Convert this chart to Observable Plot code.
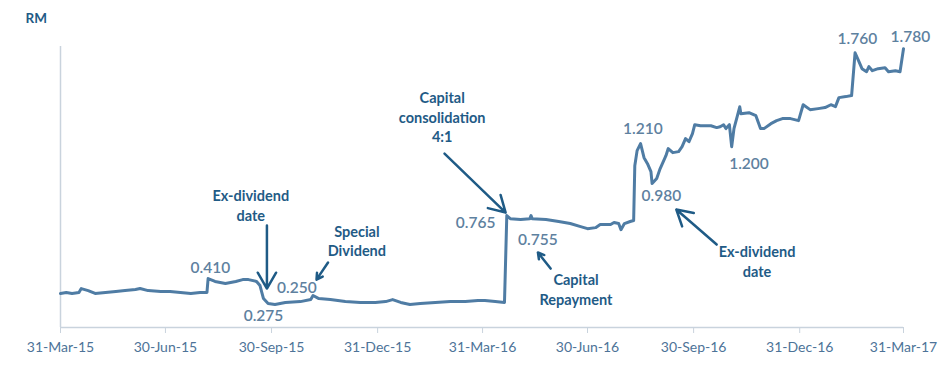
<!DOCTYPE html>
<html>
<head>
<meta charset="utf-8">
<script src="https://cdn.jsdelivr.net/npm/d3@7"></script>
<script src="https://cdn.jsdelivr.net/npm/@observablehq/plot@0.6"></script>
<style>
  html, body { margin: 0; padding: 0; background: #ffffff; }
  #chart { width: 946px; height: 380px; }
  svg { font-family: Lato, "Open Sans", sans-serif; }
</style>
</head>
<body>
<div id="chart"></div>
<script>
// Share price (RM)
const dates = [
  "2015-03-31","2015-04-05","2015-04-10","2015-04-16","2015-04-18","2015-04-24","2015-04-30","2015-05-09","2015-05-18","2015-05-26",
  "2015-06-04","2015-06-08","2015-06-15","2015-06-26","2015-07-04","2015-07-13","2015-07-22","2015-07-30","2015-08-05","2015-08-06",
  "2015-08-12","2015-08-21","2015-08-30","2015-09-05","2015-09-10","2015-09-17","2015-09-20","2015-09-23","2015-09-27","2015-10-03",
  "2015-10-12","2015-10-25","2015-11-03","2015-11-05","2015-11-10","2015-11-20","2015-12-03","2015-12-16","2015-12-29","2016-01-07",
  "2016-01-13","2016-01-20","2016-01-28","2016-02-06","2016-02-19","2016-03-03","2016-03-16","2016-03-27","2016-04-02","2016-04-11",
  "2016-04-19","2016-04-21","2016-04-24","2016-05-03","2016-05-11","2016-05-12","2016-05-13","2016-05-25","2016-06-05","2016-06-15",
  "2016-06-24","2016-06-30","2016-07-07","2016-07-11","2016-07-20","2016-07-23","2016-07-27","2016-07-29","2016-08-01","2016-08-06",
  "2016-08-09","2016-08-10","2016-08-12","2016-08-15","2016-08-18","2016-08-21","2016-08-24","2016-08-25","2016-08-29","2016-09-01",
  "2016-09-06","2016-09-08","2016-09-12","2016-09-17","2016-09-20","2016-09-23","2016-09-26","2016-09-29","2016-10-01","2016-10-06",
  "2016-10-15","2016-10-20","2016-10-23","2016-10-26","2016-10-28","2016-10-31","2016-11-02","2016-11-04","2016-11-07","2016-11-09",
  "2016-11-10","2016-11-17","2016-11-23","2016-11-27","2016-11-30","2016-12-06","2016-12-11","2016-12-16","2016-12-23","2016-12-30",
  "2017-01-03","2017-01-09","2017-01-16","2017-01-22","2017-01-27","2017-01-31","2017-02-03","2017-02-09","2017-02-14","2017-02-17",
  "2017-02-20","2017-02-23","2017-02-27","2017-03-01","2017-03-04","2017-03-09","2017-03-15","2017-03-18","2017-03-24","2017-03-28",
  "2017-03-31"
];
const prices = [
  0.331,0.337,0.331,0.337,0.360,0.348,0.331,0.337,0.343,0.348,
  0.354,0.360,0.348,0.343,0.343,0.337,0.331,0.337,0.337,0.419,
  0.402,0.390,0.402,0.413,0.413,0.402,0.378,0.301,0.272,0.266,
  0.278,0.283,0.295,0.319,0.301,0.295,0.283,0.278,0.278,0.283,
  0.295,0.278,0.266,0.272,0.278,0.283,0.283,0.289,0.289,0.283,
  0.278,0.791,0.773,0.768,0.773,0.791,0.773,0.768,0.756,0.744,
  0.726,0.714,0.720,0.738,0.738,0.750,0.744,0.708,0.744,0.756,
  0.762,1.086,1.175,1.216,1.133,1.098,1.051,0.980,1.010,1.069,
  1.145,1.187,1.163,1.169,1.198,1.246,1.228,1.275,1.328,1.322,
  1.322,1.311,1.316,1.328,1.305,1.328,1.198,1.305,1.381,1.434,
  1.393,1.399,1.381,1.305,1.305,1.334,1.352,1.364,1.364,1.352,
  1.446,1.417,1.423,1.429,1.446,1.435,1.488,1.494,1.500,1.753,
  1.706,1.659,1.641,1.671,1.647,1.659,1.665,1.641,1.647,1.641,
  1.777
];

// Axis tick dates
const tickDates = ["2015-03-31","2015-06-30","2015-09-30","2015-12-31","2016-03-31","2016-06-30","2016-09-30","2016-12-31","2017-03-31"];

// Price labels
const labelText = ["0.410","0.275","0.250","0.765","0.755","1.210","0.980","1.200","1.760","1.780"];
const labelDates = ["2015-08-08","2015-09-23","2015-10-22","2016-03-25","2016-05-18","2016-08-17","2016-09-02","2016-11-17","2017-02-19","2017-04-06"];
const labelValues = [0.484,0.195,0.366,0.750,0.644,1.305,0.909,1.098,1.836,1.848];

// Event notes
const noteText = ["Ex-dividend\ndate","Special\nDividend","Capital\nconsolidation\n4:1","Capital\nRepayment","Ex-dividend\ndate"];
const noteDates = ["2015-09-12","2015-12-13","2016-02-25","2016-06-20","2016-11-24"];
const noteValues = [0.856,0.646,1.376,0.360,0.525];

// Event arrows (from note to line)
const arrowFromDates = ["2015-09-26","2015-11-18","2016-02-27","2016-05-29","2016-10-20"];
const arrowFromValues = [0.732,0.514,1.157,0.478,0.620];
const arrowToDates = ["2015-09-26","2015-11-08","2016-04-20","2016-05-18","2016-09-15"];
const arrowToValues = [0.360,0.413,0.809,0.573,0.827];

const yDomain = [0.13, 1.79];
const unitLabel = "RM";

const P = (s) => new Date(s + "T00:00:00Z");
const series = dates.map((d, i) => ({date: P(d), price: prices[i]}));
const labels = labelText.map((t, i) => ({text: t, date: P(labelDates[i]), v: labelValues[i]}));
const notes = noteText.map((t, i) => ({text: t, date: P(noteDates[i]), v: noteValues[i]}));
const arrows = arrowFromDates.map((d, i) => ({
  x1: P(d), y1: arrowFromValues[i], x2: P(arrowToDates[i]), y2: arrowToValues[i]
}));
const ticks = tickDates.map(P);
const fmt = d3.utcFormat("%d-%b-%y");

const chart = Plot.plot({
  width: 946,
  height: 380,
  marginLeft: 60,
  marginRight: 43,
  marginTop: 46,
  marginBottom: 53,
  style: {fontFamily: "Lato, 'Open Sans', sans-serif", background: "#ffffff", overflow: "visible"},
  x: {type: "utc", domain: [ticks[0], ticks[ticks.length - 1]]},
  y: {domain: yDomain, axis: null},
  marks: [
    Plot.ruleX([ticks[0]], {stroke: "#c9d3dd", strokeWidth: 1.5}),
    Plot.ruleY([yDomain[0]], {stroke: "#c9d3dd", strokeWidth: 1.5}),
    Plot.axisX({
      ticks: ticks,
      tickFormat: fmt,
      tickSize: 6,
      tickPadding: 9,
      stroke: "#c9d3dd",
      fill: "#4d7398",
      fontSize: 14
    }),
    Plot.line(series, {x: "date", y: "price", stroke: "#4f7ca4", strokeWidth: 3, strokeLinejoin: "round"}),
    Plot.text(labels, {x: "date", y: "v", text: "text", fill: "#5e819f", fontSize: 15.5, fontWeight: 600}),
    Plot.text(notes, {x: "date", y: "v", text: "text", fill: "#1f5b86", fontSize: 14.5, fontWeight: "bold", lineHeight: 1.35}),
    Plot.arrow(arrows, {x1: "x1", y1: "y1", x2: "x2", y2: "y2", stroke: "#1f5b86", strokeWidth: 2.5, headLength: 11, headAngle: 60}),
    Plot.text([unitLabel], {frameAnchor: "top-left", dx: -35, dy: -28, lineAnchor: "middle", textAnchor: "start", fill: "#1f5b86", fontSize: 13.5, fontWeight: "bold"})
  ]
});
document.getElementById("chart").appendChild(chart);
</script>
</body>
</html>
